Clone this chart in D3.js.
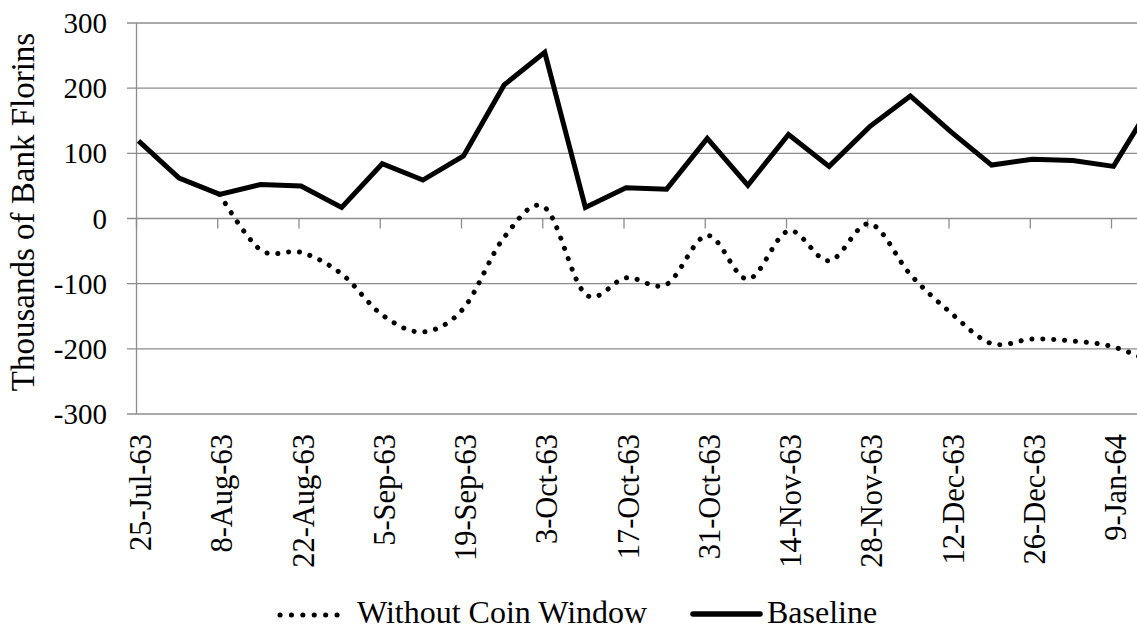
<!DOCTYPE html>
<html>
<head>
<meta charset="utf-8">
<script src="https://cdn.jsdelivr.net/npm/d3@7"></script>
<style>
  body { margin: 0; background: #fff; }
</style>
</head>
<body>
<div id="viz"></div>
<script>
// weekly observation dates
var weekDates = ["1963-07-25", "1963-08-01", "1963-08-08", "1963-08-15", "1963-08-22", "1963-08-29",
  "1963-09-05", "1963-09-12", "1963-09-19", "1963-09-26", "1963-10-03", "1963-10-10",
  "1963-10-17", "1963-10-24", "1963-10-31", "1963-11-07", "1963-11-14", "1963-11-21",
  "1963-11-28", "1963-12-05", "1963-12-12", "1963-12-19", "1963-12-26", "1964-01-02",
  "1964-01-09", "1964-01-16"];

// thousands of bank florins
var baseline = [119, 62, 37, 52, 50, 17, 84, 59, 96, 205, 255, 17, 47, 45, 123, 51, 129, 80,
  141, 188, 133, 82, 91, 89, 80, 182];
var withoutCoin = [null, null, 37, -48, -52, -85, -148, -174, -138, -29, 17, -116, -91, -101, -26,
  -93, -19, -65, -8, -86, -145, -192, -185, -188, -197, -222];

// x axis labels (every second week)
var tickDates = ["1963-07-25", "1963-08-08", "1963-08-22", "1963-09-05", "1963-09-19", "1963-10-03",
  "1963-10-17", "1963-10-31", "1963-11-14", "1963-11-28", "1963-12-12", "1963-12-26", "1964-01-09"];
var yTicks = [300, 200, 100, 0, -100, -200, -300];

var seriesNames = ["Without Coin Window", "Baseline"];

var width = 1137, height = 631;
var serif = "'Liberation Serif', 'Times New Roman', 'DejaVu Serif', serif";
var parse = d3.timeParse("%Y-%m-%d");
var fmt = d3.timeFormat("%-d-%b-%y");

var svg = d3.select('#viz').append('svg')
  .attr('width', width)
  .attr('height', height)
  .attr('font-family', serif)
  .style('font-family', serif);

// scales
var x = d3.scaleTime()
  .domain([parse(weekDates[0]), parse("1964-01-09")])
  .range([138.5, 1113.5]);
var y = d3.scaleLinear().domain([-300, 300]).range([414, 23]);

var gridColor = '#8c8c8c';

// gridlines + left ticks
svg.append('g').selectAll('line')
  .data(yTicks)
  .enter().append('line')
  .attr('x1', 127).attr('x2', width)
  .attr('y1', function (d) { return y(d); })
  .attr('y2', function (d) { return y(d); })
  .attr('stroke', gridColor)
  .attr('stroke-width', 1.3);

// vertical axis line
svg.append('line')
  .attr('x1', 136.5).attr('x2', 136.5)
  .attr('y1', y(300)).attr('y2', y(-300))
  .attr('stroke', gridColor)
  .attr('stroke-width', 1.3);

// y tick labels
svg.append('g').selectAll('text')
  .data(yTicks)
  .enter().append('text')
  .attr('x', 107)
  .attr('y', function (d) { return y(d) + 10; })
  .attr('text-anchor', 'end')
  .style('font-family', serif)
  .style('font-size', '29px')
  .text(function (d) { return d; });

// y axis title
svg.append('text')
  .attr('transform', 'translate(34,212) rotate(-90)')
  .attr('text-anchor', 'middle')
  .style('font-family', serif)
  .style('font-size', '33px')
  .text('Thousands of Bank Florins');

// category axis ticks along the zero line
var xAxis = d3.axisBottom(x)
  .tickValues(tickDates.map(parse))
  .tickSize(10)
  .tickFormat('');
var xg = svg.append('g')
  .attr('transform', 'translate(-2.5,' + y(0) + ')')
  .call(xAxis);
xg.select('.domain').remove();
xg.selectAll('line').attr('stroke', gridColor).attr('stroke-width', 1.3);

// x tick labels at the bottom, rotated
svg.append('g').selectAll('text')
  .data(tickDates)
  .enter().append('text')
  .attr('transform', function (d) { return 'translate(' + (x(parse(d)) + 2) + ',434) rotate(-90)'; })
  .attr('text-anchor', 'end')
  .attr('dy', '0.35em')
  .style('font-family', serif)
  .style('font-size', '30.5px')
  .text(function (d) { return fmt(parse(d)); });

// lines
var points = weekDates.map(function (d, i) {
  return { date: parse(d), base: baseline[i], coin: withoutCoin[i] };
});

var baseLine = d3.line()
  .x(function (d) { return x(d.date); })
  .y(function (d) { return y(d.base); });

var coinLine = d3.line()
  .curve(d3.curveCardinal.tension(0))
  .x(function (d) { return x(d.date); })
  .y(function (d) { return y(d.coin); });

svg.append('path')
  .datum(points.filter(function (d) { return d.coin !== null; }))
  .attr('d', coinLine)
  .attr('fill', 'none')
  .attr('stroke', '#000')
  .attr('stroke-width', 5)
  .attr('stroke-linecap', 'round')
  .attr('stroke-dasharray', '0.1 10.8');

svg.append('path')
  .datum(points)
  .attr('d', baseLine)
  .attr('fill', 'none')
  .attr('stroke', '#000')
  .attr('stroke-width', 5)
  .attr('stroke-linejoin', 'miter');

// legend
var legend = svg.append('g');
legend.append('line')
  .attr('x1', 280).attr('x2', 338)
  .attr('y1', 615).attr('y2', 615)
  .attr('stroke', '#000')
  .attr('stroke-width', 5)
  .attr('stroke-linecap', 'round')
  .attr('stroke-dasharray', '0.1 11.3');
legend.append('text')
  .attr('x', 357).attr('y', 623)
  .style('font-family', serif)
  .style('font-size', '32px')
  .text(seriesNames[0]);

legend.append('line')
  .attr('x1', 693).attr('x2', 760)
  .attr('y1', 614).attr('y2', 614)
  .attr('stroke', '#000')
  .attr('stroke-width', 5.5)
  .attr('stroke-linecap', 'round');
legend.append('text')
  .attr('x', 767).attr('y', 623)
  .style('font-family', serif)
  .style('font-size', '32px')
  .text(seriesNames[1]);
</script>
</body>
</html>
